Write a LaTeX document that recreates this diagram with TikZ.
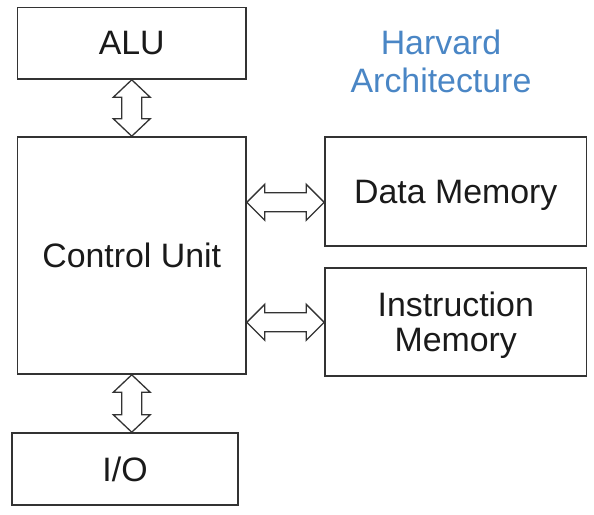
\documentclass[tikz,border=0pt]{standalone}
\usepackage{fontspec}
\setmainfont{Liberation Sans}
\usetikzlibrary{calc}
\definecolor{edge}{HTML}{333333}
\definecolor{harv}{HTML}{4A86C5}
\definecolor{ink}{HTML}{1A1A1A}
\newcommand\vdbl[2]{\draw[barrow] (#1) -- ++(18.5,17.5) -- ++(-8.5,0) -- ($(#2)+(10,-17.5)$) -- ++(8.5,0) -- (#2) -- ++(-18.5,-17.5) -- ++(8.5,0) -- ($(#1)+(-10,17.5)$) -- ++(-8.5,0) -- cycle;}
\newcommand\hdbl[2]{\draw[barrow] (#1) -- ++(18,-18) -- ++(0,8.5) -- ($(#2)+(-18,-9.5)$) -- ++(0,-8.5) -- (#2) -- ++(-18,18) -- ++(0,-8.5) -- ($(#1)+(18,9.5)$) -- ++(0,8.5) -- cycle;}
\begin{document}
\begin{tikzpicture}[x=1bp,y=-1bp,
  box/.style={draw=edge, line width=1.6bp, inner sep=0pt, text=ink, align=center,
    font=\fontsize{34}{35}\selectfont, text depth=0pt},
  title/.style={inner sep=0pt, text=harv, align=center,
    font=\fontsize{34}{38}\selectfont, text depth=0pt},
  barrow/.style={draw=edge, line width=1.3bp, fill=white, line join=miter}]
\useasboundingbox (0,0) rectangle (594,515);
\node[box, minimum width=228.5bp, minimum height=71.5bp] (alu) at (131.75,43.25) {ALU};
\node[box, minimum width=228.5bp, minimum height=237bp] (cu) at (131.75,255.5) {Control Unit};
\node[box, minimum width=226bp, minimum height=72bp] (io) at (125,469) {I/O};
\node[box, minimum width=261.5bp, minimum height=108.7bp] (dm) at (455.75,191.65) {Data Memory};
\node[box, minimum width=261.5bp, minimum height=108bp] (im) at (455.75,321.7) {Instruction\\Memory};
\node[title] (harvard) at (441,61.5) {Harvard\\Architecture};
\coordinate (r1) at (0,202.3);
\coordinate (r2) at (0,322.3);
\vdbl{alu.south}{cu.north}
\vdbl{cu.south}{cu.south |- io.north}
\hdbl{cu.east |- r1}{dm.west |- r1}
\hdbl{cu.east |- r2}{im.west |- r2}
\end{tikzpicture}
\end{document}
